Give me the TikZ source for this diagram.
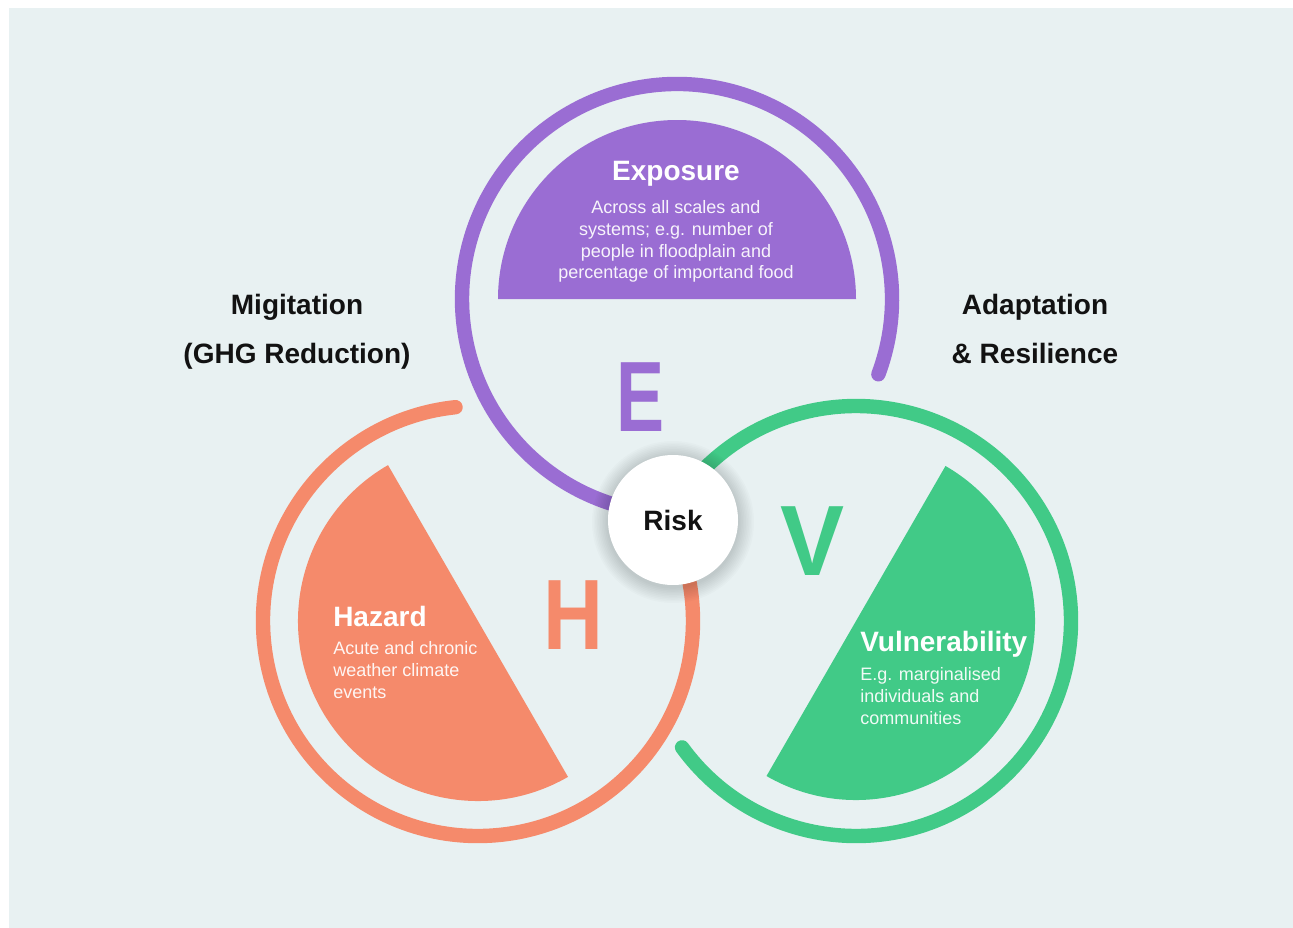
\documentclass[tikz,border=0pt]{standalone}
\usepackage{fontspec}
\setmainfont{Liberation Sans}
\definecolor{bg}{HTML}{E8F1F2}
\definecolor{expo}{HTML}{9A6DD3}
\definecolor{haz}{HTML}{F58A6B}
\definecolor{vul}{HTML}{41CA87}
\tikzset{every node/.style={draw=none,inner sep=0pt},
  ring/.style={line width=10.8pt,line cap=round},
  head/.style={font=\fontsize{21}{37}\selectfont\bfseries,text=black!93},
  body/.style={font=\fontsize{13.5}{16.4}\selectfont,text=white,text opacity=0.92},
  big/.style={font=\fontsize{75}{75}\selectfont\bfseries}}

\begin{document}
\begin{tikzpicture}[x=0.75pt,y=0.75pt]
\useasboundingbox (0,0) rectangle (1293,-928);
\fill[bg] (9,-8) rectangle (1293,-928);
      \coordinate (expo) at (677,-299);
      \coordinate (haz) at (478,-621);
      \coordinate (vul) at (856,-621);
\fill[expo] (expo) ++(0:179) arc[start angle=0,end angle=180,radius=179] -- cycle;
\fill[haz] (haz) ++(120:180) arc[start angle=120,end angle=300,radius=180] -- cycle;
\fill[vul] (vul) ++(-120:179) arc[start angle=-120,end angle=60,radius=179] -- cycle;
\foreach \c/\a/\b in {expo/-20.5/255,haz/96/375,vul/216/500}
  \draw[ring,\c] (\c) ++(\a:215) arc[start angle=\a,end angle=\b,radius=215];
\foreach \c/\t/\s/\x/\y in {expo/E/0.72/641/431,haz/H/0.83/573/649,vul/V/0.96/813/575}
  \node[big,text=\c,xscale=\s,anchor=base] (\t) at (\x,-\y) {\t};
\foreach \r in {1,...,10}
  \fill[black,opacity=0.015] (673,-522) circle[radius=65+1.6*\r];
      \node[circle,fill=white,minimum size=97.5pt,head] (risk) at (673,-520) {Risk};
      \node[head,align=center,anchor=north] (mit) at (297,-294) {Migitation\\(GHG Reduction)};
      \node[head,align=center,anchor=north] (ada) at (1035,-294) {Adaptation\\\& Resilience};
      \node[head,text=white,anchor=base] (ex) at (676,-180) {Exposure};
      \node[body,align=center,anchor=north] (ext) at (676,-200) {Across all scales and\\systems; e.g. number of\\people in floodplain and\\percentage of importand food};
      \node[head,text=white,anchor=base west] (hz) at (333,-626) {Hazard};
      \node[body,align=left,anchor=north west] (hzt) at (333,-641) {Acute and chronic\\weather climate\\events};
      \node[head,text=white,anchor=base west] (vu) at (860,-651) {Vulnerability};
      \node[body,align=left,anchor=north west] (vut) at (860,-667) {E.g. marginalised\\individuals and\\communities};
\end{tikzpicture}
\end{document}
